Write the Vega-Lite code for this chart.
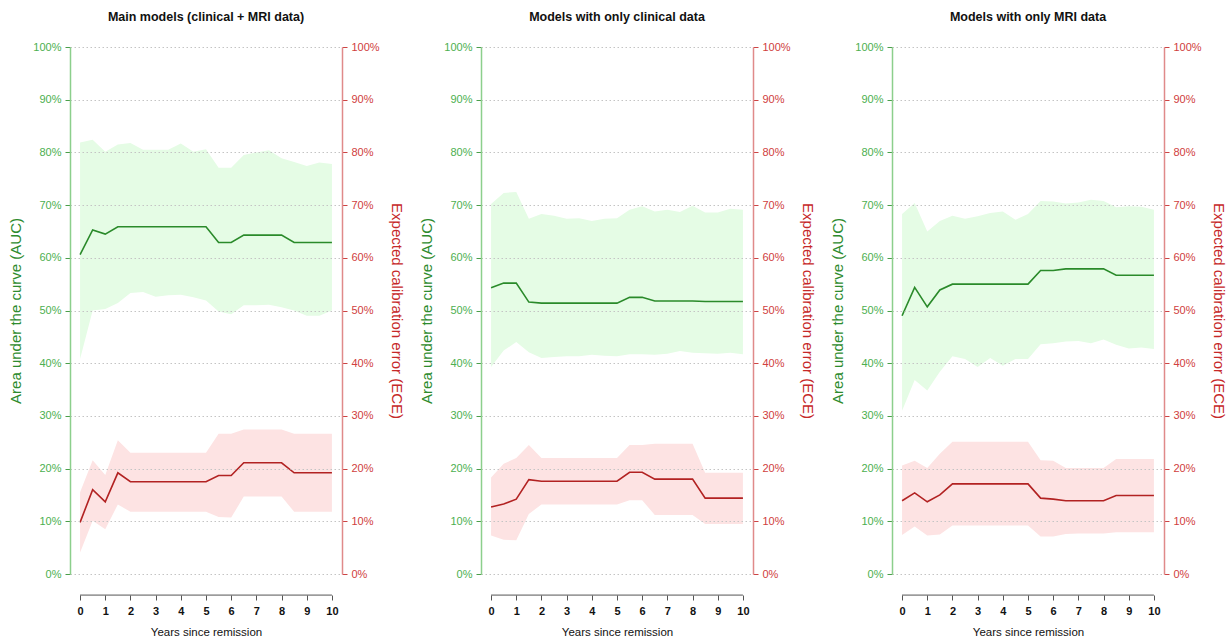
{
  "$schema": "https://vega.github.io/schema/vega-lite/v6.json",
  "padding": {"left": 8, "top": 10, "right": 2, "bottom": 5},
  "bounds": "flush",
  "spacing": 139,
  "config": {
    "font": "Liberation Sans",
    "view": {"stroke": null},
    "title": {"font": "Liberation Sans", "fontSize": 12.5, "fontWeight": "bold", "color": "#111111", "offset": 18, "anchor": "middle"},
    "axis": {"labelFont": "Liberation Sans", "titleFont": "Liberation Sans"}
  },
  "datasets": {
    "d": [
      {"panel": "main", "year": 0, "auc": 0.606, "auc_lo": 0.408, "auc_hi": 0.819, "ece": 0.098, "ece_lo": 0.041, "ece_hi": 0.155},
      {"panel": "main", "year": 0.5, "auc": 0.653, "auc_lo": 0.500, "auc_hi": 0.824, "ece": 0.160, "ece_lo": 0.101, "ece_hi": 0.216},
      {"panel": "main", "year": 1, "auc": 0.645, "auc_lo": 0.503, "auc_hi": 0.801, "ece": 0.137, "ece_lo": 0.085, "ece_hi": 0.188},
      {"panel": "main", "year": 1.5, "auc": 0.659, "auc_lo": 0.514, "auc_hi": 0.815, "ece": 0.192, "ece_lo": 0.132, "ece_hi": 0.254},
      {"panel": "main", "year": 2, "auc": 0.659, "auc_lo": 0.533, "auc_hi": 0.818, "ece": 0.175, "ece_lo": 0.118, "ece_hi": 0.230},
      {"panel": "main", "year": 2.5, "auc": 0.659, "auc_lo": 0.535, "auc_hi": 0.805, "ece": 0.175, "ece_lo": 0.118, "ece_hi": 0.230},
      {"panel": "main", "year": 3, "auc": 0.659, "auc_lo": 0.526, "auc_hi": 0.805, "ece": 0.175, "ece_lo": 0.118, "ece_hi": 0.230},
      {"panel": "main", "year": 3.5, "auc": 0.659, "auc_lo": 0.529, "auc_hi": 0.805, "ece": 0.175, "ece_lo": 0.118, "ece_hi": 0.230},
      {"panel": "main", "year": 4, "auc": 0.659, "auc_lo": 0.530, "auc_hi": 0.817, "ece": 0.175, "ece_lo": 0.118, "ece_hi": 0.230},
      {"panel": "main", "year": 4.5, "auc": 0.659, "auc_lo": 0.525, "auc_hi": 0.801, "ece": 0.175, "ece_lo": 0.118, "ece_hi": 0.230},
      {"panel": "main", "year": 5, "auc": 0.659, "auc_lo": 0.519, "auc_hi": 0.806, "ece": 0.175, "ece_lo": 0.118, "ece_hi": 0.230},
      {"panel": "main", "year": 5.5, "auc": 0.629, "auc_lo": 0.498, "auc_hi": 0.771, "ece": 0.187, "ece_lo": 0.108, "ece_hi": 0.266},
      {"panel": "main", "year": 6, "auc": 0.629, "auc_lo": 0.493, "auc_hi": 0.771, "ece": 0.187, "ece_lo": 0.107, "ece_hi": 0.266},
      {"panel": "main", "year": 6.5, "auc": 0.643, "auc_lo": 0.510, "auc_hi": 0.795, "ece": 0.211, "ece_lo": 0.147, "ece_hi": 0.274},
      {"panel": "main", "year": 7, "auc": 0.643, "auc_lo": 0.510, "auc_hi": 0.800, "ece": 0.211, "ece_lo": 0.147, "ece_hi": 0.274},
      {"panel": "main", "year": 7.5, "auc": 0.643, "auc_lo": 0.511, "auc_hi": 0.804, "ece": 0.211, "ece_lo": 0.147, "ece_hi": 0.274},
      {"panel": "main", "year": 8, "auc": 0.643, "auc_lo": 0.506, "auc_hi": 0.789, "ece": 0.211, "ece_lo": 0.147, "ece_hi": 0.274},
      {"panel": "main", "year": 8.5, "auc": 0.629, "auc_lo": 0.500, "auc_hi": 0.782, "ece": 0.192, "ece_lo": 0.118, "ece_hi": 0.266},
      {"panel": "main", "year": 9, "auc": 0.629, "auc_lo": 0.490, "auc_hi": 0.774, "ece": 0.192, "ece_lo": 0.118, "ece_hi": 0.266},
      {"panel": "main", "year": 9.5, "auc": 0.629, "auc_lo": 0.490, "auc_hi": 0.781, "ece": 0.192, "ece_lo": 0.118, "ece_hi": 0.266},
      {"panel": "main", "year": 10, "auc": 0.629, "auc_lo": 0.500, "auc_hi": 0.778, "ece": 0.192, "ece_lo": 0.118, "ece_hi": 0.266},

      {"panel": "clin", "year": 0, "auc": 0.543, "auc_lo": 0.393, "auc_hi": 0.702, "ece": 0.127, "ece_lo": 0.073, "ece_hi": 0.183},
      {"panel": "clin", "year": 0.5, "auc": 0.552, "auc_lo": 0.424, "auc_hi": 0.723, "ece": 0.133, "ece_lo": 0.065, "ece_hi": 0.209},
      {"panel": "clin", "year": 1, "auc": 0.552, "auc_lo": 0.440, "auc_hi": 0.725, "ece": 0.142, "ece_lo": 0.064, "ece_hi": 0.220},
      {"panel": "clin", "year": 1.5, "auc": 0.516, "auc_lo": 0.421, "auc_hi": 0.674, "ece": 0.179, "ece_lo": 0.114, "ece_hi": 0.245},
      {"panel": "clin", "year": 2, "auc": 0.514, "auc_lo": 0.410, "auc_hi": 0.683, "ece": 0.176, "ece_lo": 0.132, "ece_hi": 0.220},
      {"panel": "clin", "year": 2.5, "auc": 0.514, "auc_lo": 0.412, "auc_hi": 0.680, "ece": 0.176, "ece_lo": 0.132, "ece_hi": 0.220},
      {"panel": "clin", "year": 3, "auc": 0.514, "auc_lo": 0.413, "auc_hi": 0.674, "ece": 0.176, "ece_lo": 0.132, "ece_hi": 0.220},
      {"panel": "clin", "year": 3.5, "auc": 0.514, "auc_lo": 0.413, "auc_hi": 0.675, "ece": 0.176, "ece_lo": 0.132, "ece_hi": 0.220},
      {"panel": "clin", "year": 4, "auc": 0.514, "auc_lo": 0.416, "auc_hi": 0.670, "ece": 0.176, "ece_lo": 0.132, "ece_hi": 0.220},
      {"panel": "clin", "year": 4.5, "auc": 0.514, "auc_lo": 0.414, "auc_hi": 0.674, "ece": 0.176, "ece_lo": 0.132, "ece_hi": 0.220},
      {"panel": "clin", "year": 5, "auc": 0.514, "auc_lo": 0.413, "auc_hi": 0.675, "ece": 0.176, "ece_lo": 0.132, "ece_hi": 0.220},
      {"panel": "clin", "year": 5.5, "auc": 0.525, "auc_lo": 0.417, "auc_hi": 0.691, "ece": 0.193, "ece_lo": 0.140, "ece_hi": 0.245},
      {"panel": "clin", "year": 6, "auc": 0.525, "auc_lo": 0.417, "auc_hi": 0.698, "ece": 0.193, "ece_lo": 0.140, "ece_hi": 0.245},
      {"panel": "clin", "year": 6.5, "auc": 0.518, "auc_lo": 0.416, "auc_hi": 0.688, "ece": 0.180, "ece_lo": 0.112, "ece_hi": 0.247},
      {"panel": "clin", "year": 7, "auc": 0.518, "auc_lo": 0.418, "auc_hi": 0.691, "ece": 0.180, "ece_lo": 0.112, "ece_hi": 0.247},
      {"panel": "clin", "year": 7.5, "auc": 0.518, "auc_lo": 0.423, "auc_hi": 0.687, "ece": 0.180, "ece_lo": 0.112, "ece_hi": 0.247},
      {"panel": "clin", "year": 8, "auc": 0.518, "auc_lo": 0.420, "auc_hi": 0.699, "ece": 0.180, "ece_lo": 0.112, "ece_hi": 0.247},
      {"panel": "clin", "year": 8.5, "auc": 0.517, "auc_lo": 0.419, "auc_hi": 0.686, "ece": 0.144, "ece_lo": 0.095, "ece_hi": 0.192},
      {"panel": "clin", "year": 9, "auc": 0.517, "auc_lo": 0.418, "auc_hi": 0.686, "ece": 0.144, "ece_lo": 0.095, "ece_hi": 0.192},
      {"panel": "clin", "year": 9.5, "auc": 0.517, "auc_lo": 0.420, "auc_hi": 0.693, "ece": 0.144, "ece_lo": 0.095, "ece_hi": 0.192},
      {"panel": "clin", "year": 10, "auc": 0.517, "auc_lo": 0.417, "auc_hi": 0.691, "ece": 0.144, "ece_lo": 0.095, "ece_hi": 0.192},

      {"panel": "mri", "year": 0, "auc": 0.490, "auc_lo": 0.310, "auc_hi": 0.683, "ece": 0.139, "ece_lo": 0.074, "ece_hi": 0.206},
      {"panel": "mri", "year": 0.5, "auc": 0.544, "auc_lo": 0.368, "auc_hi": 0.704, "ece": 0.154, "ece_lo": 0.090, "ece_hi": 0.215},
      {"panel": "mri", "year": 1, "auc": 0.507, "auc_lo": 0.348, "auc_hi": 0.650, "ece": 0.137, "ece_lo": 0.073, "ece_hi": 0.201},
      {"panel": "mri", "year": 1.5, "auc": 0.539, "auc_lo": 0.384, "auc_hi": 0.670, "ece": 0.150, "ece_lo": 0.075, "ece_hi": 0.228},
      {"panel": "mri", "year": 2, "auc": 0.550, "auc_lo": 0.413, "auc_hi": 0.680, "ece": 0.171, "ece_lo": 0.092, "ece_hi": 0.251},
      {"panel": "mri", "year": 2.5, "auc": 0.550, "auc_lo": 0.408, "auc_hi": 0.674, "ece": 0.171, "ece_lo": 0.092, "ece_hi": 0.251},
      {"panel": "mri", "year": 3, "auc": 0.550, "auc_lo": 0.393, "auc_hi": 0.679, "ece": 0.171, "ece_lo": 0.092, "ece_hi": 0.251},
      {"panel": "mri", "year": 3.5, "auc": 0.550, "auc_lo": 0.410, "auc_hi": 0.685, "ece": 0.171, "ece_lo": 0.092, "ece_hi": 0.251},
      {"panel": "mri", "year": 4, "auc": 0.550, "auc_lo": 0.395, "auc_hi": 0.688, "ece": 0.171, "ece_lo": 0.092, "ece_hi": 0.251},
      {"panel": "mri", "year": 4.5, "auc": 0.550, "auc_lo": 0.408, "auc_hi": 0.672, "ece": 0.171, "ece_lo": 0.092, "ece_hi": 0.251},
      {"panel": "mri", "year": 5, "auc": 0.550, "auc_lo": 0.408, "auc_hi": 0.683, "ece": 0.171, "ece_lo": 0.092, "ece_hi": 0.251},
      {"panel": "mri", "year": 5.5, "auc": 0.576, "auc_lo": 0.436, "auc_hi": 0.708, "ece": 0.144, "ece_lo": 0.071, "ece_hi": 0.216},
      {"panel": "mri", "year": 6, "auc": 0.576, "auc_lo": 0.438, "auc_hi": 0.707, "ece": 0.142, "ece_lo": 0.071, "ece_hi": 0.215},
      {"panel": "mri", "year": 6.5, "auc": 0.579, "auc_lo": 0.441, "auc_hi": 0.703, "ece": 0.139, "ece_lo": 0.076, "ece_hi": 0.201},
      {"panel": "mri", "year": 7, "auc": 0.579, "auc_lo": 0.442, "auc_hi": 0.705, "ece": 0.139, "ece_lo": 0.077, "ece_hi": 0.201},
      {"panel": "mri", "year": 7.5, "auc": 0.579, "auc_lo": 0.438, "auc_hi": 0.710, "ece": 0.139, "ece_lo": 0.077, "ece_hi": 0.201},
      {"panel": "mri", "year": 8, "auc": 0.579, "auc_lo": 0.445, "auc_hi": 0.708, "ece": 0.139, "ece_lo": 0.077, "ece_hi": 0.201},
      {"panel": "mri", "year": 8.5, "auc": 0.567, "auc_lo": 0.435, "auc_hi": 0.696, "ece": 0.149, "ece_lo": 0.079, "ece_hi": 0.218},
      {"panel": "mri", "year": 9, "auc": 0.567, "auc_lo": 0.428, "auc_hi": 0.698, "ece": 0.149, "ece_lo": 0.079, "ece_hi": 0.218},
      {"panel": "mri", "year": 9.5, "auc": 0.567, "auc_lo": 0.430, "auc_hi": 0.697, "ece": 0.149, "ece_lo": 0.079, "ece_hi": 0.218},
      {"panel": "mri", "year": 10, "auc": 0.567, "auc_lo": 0.427, "auc_hi": 0.691, "ece": 0.149, "ece_lo": 0.079, "ece_hi": 0.218}
    ]
  },
  "data": {"name": "d"},
  "hconcat": [
    {
      "title": "Main models (clinical + MRI data)",
      "width": 272, "height": 527,
      "transform": [{"filter": "datum.panel === 'main'"}],
      "encoding": {
        "x": {"field": "year", "type": "quantitative", "scale": {"domain": [-0.4, 10.4], "nice": false},
              "axis": {"values": [0,1,2,3,4,5,6,7,8,9,10], "tickCount": 11, "labelOverlap": false, "title": "Years since remission", "offset": 21, "domain": false, "grid": false, "tickSize": 5, "tickColor": "#555555", "labelColor": "#111111", "labelFontSize": 11, "labelFontWeight": "bold", "labelPadding": 5, "titleFontSize": 11.5, "titleFontWeight": "normal", "titleColor": "#111111", "titlePadding": 10}}
      },
      "layer": [
        {"layer": [
          {"mark": {"type": "area", "color": "#e5fce5", "opacity": 1},
           "encoding": {
             "y": {"field": "auc_lo", "type": "quantitative", "scale": {"domain": [0, 1], "nice": false},
                   "axis": {"orient": "left", "format": ".0%", "values": [0,0.1,0.2,0.3,0.4,0.5,0.6,0.7,0.8,0.9,1], "title": "Area under the curve (AUC)", "titleFontSize": 15, "titleFontWeight": "normal", "titleColor": "#2e8b2e", "titlePadding": 9, "labelColor": "#4caf50", "labelFontSize": 11, "labelPadding": 4, "tickSize": 5, "tickColor": "#4a9e4a", "domainColor": "#8ccf8c", "domainWidth": 1.5, "grid": true, "gridColor": "#c4c4c4", "gridDash": [1.5, 2.5], "zindex": 1}},
             "y2": {"field": "auc_hi"}
           }},
          {"mark": {"type": "line", "color": "#2a8a2a", "strokeWidth": 1.6},
           "encoding": {"y": {"field": "auc", "type": "quantitative"}}},
          {"transform": [{"filter": "datum.year === 0"}],
           "mark": {"type": "rule", "color": "#555555", "strokeWidth": 1},
           "encoding": {"x": {"datum": 0, "type": "quantitative"}, "x2": {"datum": 10}, "y": {"datum": -0.04, "type": "quantitative"}}}
        ]},
        {"layer": [
          {"mark": {"type": "area", "color": "#fde3e3", "opacity": 1},
           "encoding": {
             "y": {"field": "ece_lo", "type": "quantitative", "scale": {"domain": [0, 1], "nice": false},
                   "axis": {"orient": "right", "format": ".0%", "values": [0,0.1,0.2,0.3,0.4,0.5,0.6,0.7,0.8,0.9,1], "title": "Expected calibration error (ECE)", "titleFontSize": 15, "titleFontWeight": "normal", "titleColor": "#c62828", "titlePadding": 9, "labelColor": "#d04040", "labelFontSize": 11, "labelPadding": 4, "tickSize": 5, "tickColor": "#cc4444", "domainColor": "#e08a8a", "domainWidth": 1.5, "grid": false}},
             "y2": {"field": "ece_hi"}
           }},
          {"mark": {"type": "line", "color": "#b22222", "strokeWidth": 1.6},
           "encoding": {"y": {"field": "ece", "type": "quantitative"}}}
        ]}
      ],
      "resolve": {"scale": {"y": "independent"}}
    },
    {
      "title": "Models with only clinical data",
      "width": 272, "height": 527,
      "transform": [{"filter": "datum.panel === 'clin'"}],
      "encoding": {
        "x": {"field": "year", "type": "quantitative", "scale": {"domain": [-0.4, 10.4], "nice": false},
              "axis": {"values": [0,1,2,3,4,5,6,7,8,9,10], "tickCount": 11, "labelOverlap": false, "title": "Years since remission", "offset": 21, "domain": false, "grid": false, "tickSize": 5, "tickColor": "#555555", "labelColor": "#111111", "labelFontSize": 11, "labelFontWeight": "bold", "labelPadding": 5, "titleFontSize": 11.5, "titleFontWeight": "normal", "titleColor": "#111111", "titlePadding": 10}}
      },
      "layer": [
        {"layer": [
          {"mark": {"type": "area", "color": "#e5fce5", "opacity": 1},
           "encoding": {
             "y": {"field": "auc_lo", "type": "quantitative", "scale": {"domain": [0, 1], "nice": false},
                   "axis": {"orient": "left", "format": ".0%", "values": [0,0.1,0.2,0.3,0.4,0.5,0.6,0.7,0.8,0.9,1], "title": "Area under the curve (AUC)", "titleFontSize": 15, "titleFontWeight": "normal", "titleColor": "#2e8b2e", "titlePadding": 9, "labelColor": "#4caf50", "labelFontSize": 11, "labelPadding": 4, "tickSize": 5, "tickColor": "#4a9e4a", "domainColor": "#8ccf8c", "domainWidth": 1.5, "grid": true, "gridColor": "#c4c4c4", "gridDash": [1.5, 2.5], "zindex": 1}},
             "y2": {"field": "auc_hi"}
           }},
          {"mark": {"type": "line", "color": "#2a8a2a", "strokeWidth": 1.6},
           "encoding": {"y": {"field": "auc", "type": "quantitative"}}},
          {"transform": [{"filter": "datum.year === 0"}],
           "mark": {"type": "rule", "color": "#555555", "strokeWidth": 1},
           "encoding": {"x": {"datum": 0, "type": "quantitative"}, "x2": {"datum": 10}, "y": {"datum": -0.04, "type": "quantitative"}}}
        ]},
        {"layer": [
          {"mark": {"type": "area", "color": "#fde3e3", "opacity": 1},
           "encoding": {
             "y": {"field": "ece_lo", "type": "quantitative", "scale": {"domain": [0, 1], "nice": false},
                   "axis": {"orient": "right", "format": ".0%", "values": [0,0.1,0.2,0.3,0.4,0.5,0.6,0.7,0.8,0.9,1], "title": "Expected calibration error (ECE)", "titleFontSize": 15, "titleFontWeight": "normal", "titleColor": "#c62828", "titlePadding": 9, "labelColor": "#d04040", "labelFontSize": 11, "labelPadding": 4, "tickSize": 5, "tickColor": "#cc4444", "domainColor": "#e08a8a", "domainWidth": 1.5, "grid": false}},
             "y2": {"field": "ece_hi"}
           }},
          {"mark": {"type": "line", "color": "#b22222", "strokeWidth": 1.6},
           "encoding": {"y": {"field": "ece", "type": "quantitative"}}}
        ]}
      ],
      "resolve": {"scale": {"y": "independent"}}
    },
    {
      "title": "Models with only MRI data",
      "width": 272, "height": 527,
      "transform": [{"filter": "datum.panel === 'mri'"}],
      "encoding": {
        "x": {"field": "year", "type": "quantitative", "scale": {"domain": [-0.4, 10.4], "nice": false},
              "axis": {"values": [0,1,2,3,4,5,6,7,8,9,10], "tickCount": 11, "labelOverlap": false, "title": "Years since remission", "offset": 21, "domain": false, "grid": false, "tickSize": 5, "tickColor": "#555555", "labelColor": "#111111", "labelFontSize": 11, "labelFontWeight": "bold", "labelPadding": 5, "titleFontSize": 11.5, "titleFontWeight": "normal", "titleColor": "#111111", "titlePadding": 10}}
      },
      "layer": [
        {"layer": [
          {"mark": {"type": "area", "color": "#e5fce5", "opacity": 1},
           "encoding": {
             "y": {"field": "auc_lo", "type": "quantitative", "scale": {"domain": [0, 1], "nice": false},
                   "axis": {"orient": "left", "format": ".0%", "values": [0,0.1,0.2,0.3,0.4,0.5,0.6,0.7,0.8,0.9,1], "title": "Area under the curve (AUC)", "titleFontSize": 15, "titleFontWeight": "normal", "titleColor": "#2e8b2e", "titlePadding": 9, "labelColor": "#4caf50", "labelFontSize": 11, "labelPadding": 4, "tickSize": 5, "tickColor": "#4a9e4a", "domainColor": "#8ccf8c", "domainWidth": 1.5, "grid": true, "gridColor": "#c4c4c4", "gridDash": [1.5, 2.5], "zindex": 1}},
             "y2": {"field": "auc_hi"}
           }},
          {"mark": {"type": "line", "color": "#2a8a2a", "strokeWidth": 1.6},
           "encoding": {"y": {"field": "auc", "type": "quantitative"}}},
          {"transform": [{"filter": "datum.year === 0"}],
           "mark": {"type": "rule", "color": "#555555", "strokeWidth": 1},
           "encoding": {"x": {"datum": 0, "type": "quantitative"}, "x2": {"datum": 10}, "y": {"datum": -0.04, "type": "quantitative"}}}
        ]},
        {"layer": [
          {"mark": {"type": "area", "color": "#fde3e3", "opacity": 1},
           "encoding": {
             "y": {"field": "ece_lo", "type": "quantitative", "scale": {"domain": [0, 1], "nice": false},
                   "axis": {"orient": "right", "format": ".0%", "values": [0,0.1,0.2,0.3,0.4,0.5,0.6,0.7,0.8,0.9,1], "title": "Expected calibration error (ECE)", "titleFontSize": 15, "titleFontWeight": "normal", "titleColor": "#c62828", "titlePadding": 9, "labelColor": "#d04040", "labelFontSize": 11, "labelPadding": 4, "tickSize": 5, "tickColor": "#cc4444", "domainColor": "#e08a8a", "domainWidth": 1.5, "grid": false}},
             "y2": {"field": "ece_hi"}
           }},
          {"mark": {"type": "line", "color": "#b22222", "strokeWidth": 1.6},
           "encoding": {"y": {"field": "ece", "type": "quantitative"}}}
        ]}
      ],
      "resolve": {"scale": {"y": "independent"}}
    }
  ]
}
